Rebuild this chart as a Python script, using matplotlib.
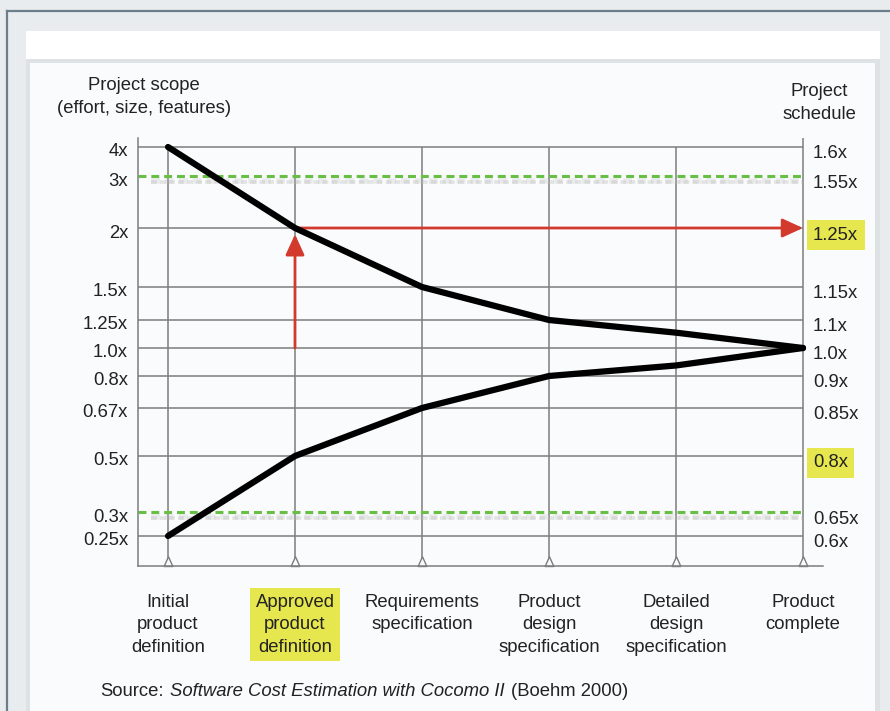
import numpy as np
import matplotlib
matplotlib.use("Agg")
import matplotlib.pyplot as plt
from matplotlib import transforms
from matplotlib.patches import Rectangle
from matplotlib.lines import Line2D
from matplotlib.path import Path

# ---- data -------------------------------------------------------------
stages = [
    "Initial\nproduct\ndefinition",
    "Approved\nproduct\ndefinition",
    "Requirements\nspecification",
    "Product\ndesign\nspecification",
    "Detailed\ndesign\nspecification",
    "Product\ncomplete",
]
scope_upper = [4, 2, 1.5, 1.25, 1.13, 1.0]
scope_lower = [0.25, 0.5, 0.67, 0.8, 0.87, 1.0]

scope_ticks = [4, 3, 2, 1.5, 1.25, 1.0, 0.8, 0.67, 0.5, 0.3, 0.25]
scope_labels = ["4x", "3x", "2x", "1.5x", "1.25x", "1.0x", "0.8x", "0.67x",
                "0.5x", "0.3x", "0.25x"]
schedule_labels = ["1.6x", "1.55x", "1.25x", "1.15x", "1.1x", "1.0x", "0.9x",
                   "0.85x", "0.8x", "0.65x", "0.6x"]
gridline_levels = [4, 2, 1.5, 1.25, 1.0, 0.8, 0.67, 0.5, 0.25]
band_limits = [3, 0.3]

approved_stage = 1
approved_scope = 2
start_scope = 1.0
highlighted_schedule = ["1.25x", "0.8x"]

# ---- layout -----------------------------------------------------------
W, H = 890, 711
# spacing of the printed scope scale (page rows of each tick level)
tick_rows = [147, 176, 228, 287, 320, 348, 376, 408, 456, 512, 536]
AX_LEFT, AX_RIGHT, AX_TOP, AX_BOTTOM = 138, 823, 138, 566
STAGE_PX = 127.0
FIRST_STAGE_PX = 168

TEXT = "#222222"
GRID = "#7d7d7d"
RED = "#d23a2e"
GREEN = "#68bf45"
YELLOW = "#e6e64e"
PANEL = "#fafbfc"
FS = 13.3

plt.rcParams["font.family"] = ["Liberation Sans", "DejaVu Sans"]

fig = plt.figure(figsize=(W / 100, H / 100), dpi=100)
fig.patch.set_facecolor("#e8ecef")


def page_rect(x0, y0, x1, y1, color):
    fig.add_artist(Rectangle((x0 / W, 1 - y1 / H), (x1 - x0) / W, (y1 - y0) / H,
                             transform=fig.transFigure, facecolor=color,
                             edgecolor="none", zorder=-10))


page_rect(26, 31, 880, 59, "#ffffff")
page_rect(26, 59, 880, 711, "#dfe2e5")
page_rect(30, 63, 875, 711, PANEL)
fig.add_artist(Line2D([7 / W, 1], [1 - 10.5 / H, 1 - 10.5 / H],
                      transform=fig.transFigure, color="#6b7e8a", lw=1.6, zorder=-9))
fig.add_artist(Line2D([7 / W, 7 / W], [0, 1 - 10.5 / H],
                      transform=fig.transFigure, color="#6b7e8a", lw=1.6, zorder=-9))

ax = fig.add_axes([AX_LEFT / W, 1 - AX_BOTTOM / H,
                   (AX_RIGHT - AX_LEFT) / W, (AX_BOTTOM - AX_TOP) / H])
ax.set_facecolor("none")

# piecewise scope scale (log-based, stretched as printed)
_logs = np.log(np.array(scope_ticks, float))[::-1]
_rows = -np.array(tick_rows, float)[::-1]


def _piecewise(x, xp, fp):
    x = np.asarray(x, float)
    y = np.interp(x, xp, fp)
    lo_slope = (fp[1] - fp[0]) / (xp[1] - xp[0])
    hi_slope = (fp[-1] - fp[-2]) / (xp[-1] - xp[-2])
    y = np.where(x < xp[0], fp[0] + (x - xp[0]) * lo_slope, y)
    y = np.where(x > xp[-1], fp[-1] + (x - xp[-1]) * hi_slope, y)
    return y


def fwd(v):
    return _piecewise(np.log(np.clip(np.asarray(v, float), 1e-9, None)), _logs, _rows)


def inv(h):
    return np.exp(_piecewise(h, _rows, _logs))


ax.set_yscale("function", functions=(fwd, inv))
y_bottom = float(inv(-AX_BOTTOM))
y_top = float(inv(-AX_TOP))
ax.set_ylim(y_bottom, y_top)
n = len(stages)
x_left = -(FIRST_STAGE_PX - AX_LEFT) / STAGE_PX
x_right = (n - 1) + (AX_RIGHT - (FIRST_STAGE_PX + (n - 1) * STAGE_PX)) / STAGE_PX
ax.set_xlim(x_left, x_right)
last = n - 1

for side in ("top", "right"):
    ax.spines[side].set_visible(False)
for side in ("left", "bottom"):
    ax.spines[side].set_color(GRID)
    ax.spines[side].set_linewidth(1.1)
ax.set_xticks([])
ax.set_yticks([])
ax.minorticks_off()

# grid
ax.hlines(gridline_levels, x_left, last, colors=GRID, lw=1.1, zorder=1)
ax.vlines(range(last), y_bottom, max(scope_ticks), colors=GRID, lw=1.1, zorder=1)
ax.axvline(last, color=GRID, lw=1.1, zorder=1)

# chevron ticks on the baseline
chevron = Path([(-0.45, 0), (0, 1), (0.45, 0), (-0.45, 0)],
               [Path.MOVETO, Path.LINETO, Path.LINETO, Path.CLOSEPOLY])
ax.plot(range(n), [y_bottom] * n, linestyle="none", marker=chevron, markersize=14,
        markerfacecolor=PANEL, markeredgecolor=GRID, markeredgewidth=1.0,
        clip_on=False, zorder=2)

# dashed band limits with a soft shadow
for dy, a, w in [(-5, 0.25, 4.0), (-6, 0.35, 2.6)]:
    shadow = ax.transData + transforms.ScaledTranslation(0, dy / 100, fig.dpi_scale_trans)
    for lvl in band_limits:
        ax.plot([x_left + 0.1, last], [lvl, lvl], color="#b9b9b9", lw=w, alpha=a,
                linestyle=(0, (1.6, 0.9)), transform=shadow, zorder=1.5)
for lvl in band_limits:
    ax.plot([x_left, last], [lvl, lvl], color=GREEN, lw=2.2,
            linestyle=(0, (2.6, 1.6)), zorder=2)

# red arrows from the approved definition to the schedule axis
arrow_kw = dict(arrowstyle="-|>,head_length=0.7,head_width=0.32", color=RED,
                lw=2.0, shrinkA=0, shrinkB=0, mutation_scale=18)
ax.annotate("", xy=(approved_stage, approved_scope * 0.97),
            xytext=(approved_stage, start_scope), arrowprops=arrow_kw, zorder=3)
ax.annotate("", xy=(last, approved_scope), xytext=(approved_stage, approved_scope),
            arrowprops=arrow_kw, zorder=3)

# cone of uncertainty
for series in (scope_upper, scope_lower):
    ax.plot(range(n), series, color="black", lw=4.5, solid_capstyle="round",
            solid_joinstyle="round", zorder=4)

# scale labels
left_tr = transforms.blended_transform_factory(ax.transAxes, ax.transData) + \
    transforms.ScaledTranslation(-10 / 100, -5 / 100, fig.dpi_scale_trans)
right_tr = ax.transData + transforms.ScaledTranslation(10 / 100, -7 / 100, fig.dpi_scale_trans)
for val, lab, sched in zip(scope_ticks, scope_labels, schedule_labels):
    ax.text(0, val, lab, transform=left_tr, ha="right", va="center",
            fontsize=FS, color=TEXT, clip_on=False)
    t = ax.text(last, val, sched, transform=right_tr, ha="left", va="center",
                fontsize=FS, color=TEXT, clip_on=False)
    if sched in highlighted_schedule:
        t.set_bbox(dict(boxstyle="square,pad=0.35", facecolor=YELLOW, edgecolor="none"))

# stage labels
stage_tr = transforms.blended_transform_factory(ax.transData, ax.transAxes) + \
    transforms.ScaledTranslation(0, -28 / 100, fig.dpi_scale_trans)
for i, lab in enumerate(stages):
    t = ax.text(i, 0, lab, transform=stage_tr, ha="center", va="top",
                multialignment="center", fontsize=FS, color=TEXT,
                linespacing=1.42, clip_on=False)
    if i == approved_stage:
        t.set_bbox(dict(boxstyle="square,pad=0.3", facecolor=YELLOW, edgecolor="none"))

# axis titles
fig.text(144 / W, 1 - 97 / H, "Project scope\n(effort, size, features)",
         ha="center", va="center", fontsize=FS, color=TEXT, linespacing=1.4)
fig.text(819 / W, 1 - 103 / H, "Project\nschedule", ha="center", va="center",
         fontsize=FS, color=TEXT, linespacing=1.4)

# source line
renderer = fig.canvas.get_renderer()
x_px = 100
parts = [("Source:", "normal", 7), ("Software Cost Estimation with Cocomo II", "italic", 6),
         ("(Boehm 2000)", "normal", 0)]
for txt, style, gap in parts:
    t = fig.text(x_px / W, 1 - 691 / H, txt, ha="left", va="center", fontsize=FS,
                 style=style, color=TEXT)
    bb = t.get_window_extent(renderer)
    x_px = bb.x1 + gap

fig.savefig("out.png", dpi=100, facecolor=fig.get_facecolor())
